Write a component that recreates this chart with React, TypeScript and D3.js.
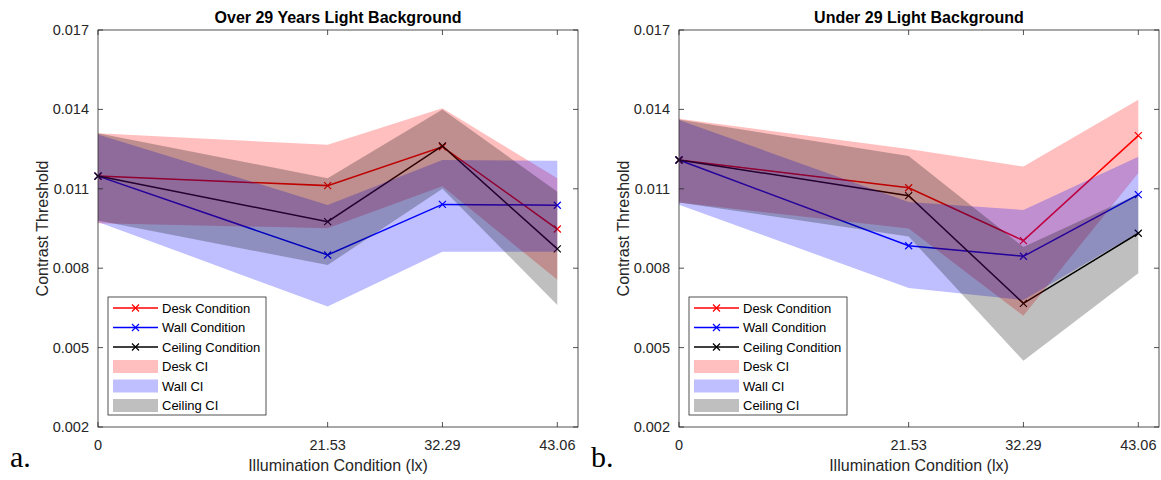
import React, { useEffect, useRef } from 'react';
import * as d3 from 'd3';

// illumination levels (lx) shared by both panels
const xValues = [0, 21.53, 32.29, 43.06];
const xTickLabels = ['0', '21.53', '32.29', '43.06'];
const yTicks = [0.002, 0.005, 0.008, 0.011, 0.014, 0.017];

// Over 29 years
const overDesk = [0.01148, 0.01112, 0.01259, 0.00948];
const overWall = [0.01148, 0.0085, 0.01041, 0.01038];
const overCeiling = [0.01148, 0.00976, 0.01262, 0.00873];
const overDeskLo = [0.0097, 0.00951, 0.0111, 0.00756];
const overDeskHi = [0.0131, 0.01266, 0.01404, 0.0114];
const overWallLo = [0.00975, 0.00655, 0.00862, 0.00862];
const overWallHi = [0.01305, 0.01039, 0.01209, 0.01206];
const overCeilLo = [0.0098, 0.00812, 0.011, 0.00661];
const overCeilHi = [0.0131, 0.0114, 0.014, 0.01089];

// Under 29
const underDesk = [0.01209, 0.01104, 0.00904, 0.01301];
const underWall = [0.01209, 0.00885, 0.00845, 0.01078];
const underCeiling = [0.01209, 0.01074, 0.00667, 0.00932];
const underDeskLo = [0.01048, 0.0095, 0.0062, 0.0116];
const underDeskHi = [0.01365, 0.0125, 0.01184, 0.01436];
const underWallLo = [0.0104, 0.00725, 0.0068, 0.00935];
const underWallHi = [0.0136, 0.0105, 0.0102, 0.01221];
const underCeilLo = [0.01048, 0.0092, 0.0045, 0.00781];
const underCeilHi = [0.01362, 0.01224, 0.0088, 0.0108];

const legendLabels = ['Desk Condition', 'Wall Condition', 'Ceiling Condition', 'Desk CI', 'Wall CI', 'Ceiling CI'];
const seriesColors = ['#ff0000', '#0000ff', '#000000'];

const FONT = '"Liberation Sans", Arial, Helvetica, sans-serif';
const AXIS_COLOR = '#262626';

export default function App() {
  const svgRef = useRef<SVGSVGElement>(null);

  useEffect(() => {
    const svg = d3.select(svgRef.current);
    svg.selectAll('*').remove();

    const panels = [
      {
        left: 98, tag: 'a.', title: 'Over 29 Years Light Background',
        lines: [overDesk, overWall, overCeiling],
        bands: [[overDeskLo, overDeskHi], [overWallLo, overWallHi], [overCeilLo, overCeilHi]]
      },
      {
        left: 679, tag: 'b.', title: 'Under 29 Light Background',
        lines: [underDesk, underWall, underCeiling],
        bands: [[underDeskLo, underDeskHi], [underWallLo, underWallHi], [underCeilLo, underCeilHi]]
      }
    ];

    const top = 30, bottom = 427, width = 480;
    const y = d3.scaleLinear().domain([0.002, 0.017]).range([bottom, top]);

    panels.forEach(p => {
      const x = d3.scaleLinear().domain([0, 45]).range([p.left, p.left + width]);
      const right = p.left + width;
      const g = svg.append('g');

      // lines first, CI fills go over them (as in the original)
      const line = d3.line<number>().x((d, i) => x(xValues[i])).y(d => y(d));
      p.lines.forEach((vals, k) => {
        g.append('path')
          .attr('d', line(vals))
          .attr('fill', 'none')
          .attr('stroke', seriesColors[k])
          .attr('stroke-width', 1.5);
        vals.forEach((v, i) => {
          const cx = x(xValues[i]), cy = y(v), s = 3.5;
          g.append('path')
            .attr('d', `M${cx - s},${cy - s}L${cx + s},${cy + s}M${cx - s},${cy + s}L${cx + s},${cy - s}`)
            .attr('stroke', seriesColors[k])
            .attr('stroke-width', 1.2);
        });
      });

      p.bands.forEach(([lo, hi], k) => {
        const area = d3.area<number>()
          .x((d, i) => x(xValues[i]))
          .y0((d, i) => y(lo[i]))
          .y1((d, i) => y(hi[i]));
        g.append('path')
          .attr('d', area(lo))
          .attr('fill', seriesColors[k])
          .attr('fill-opacity', 0.25);
      });

      // box + ticks
      g.append('rect')
        .attr('x', p.left).attr('y', top)
        .attr('width', width).attr('height', bottom - top)
        .attr('fill', 'none').attr('stroke', AXIS_COLOR).attr('stroke-width', 0.8);

      yTicks.forEach(t => {
        g.append('line').attr('x1', p.left).attr('x2', p.left + 5).attr('y1', y(t)).attr('y2', y(t))
          .attr('stroke', AXIS_COLOR).attr('stroke-width', 0.8);
        g.append('line').attr('x1', right - 5).attr('x2', right).attr('y1', y(t)).attr('y2', y(t))
          .attr('stroke', AXIS_COLOR).attr('stroke-width', 0.8);
        g.append('text')
          .attr('x', p.left - 9).attr('y', y(t)).attr('dy', '0.35em')
          .attr('text-anchor', 'end')
          .style('font-family', FONT).style('font-size', '14.5px').style('fill', AXIS_COLOR)
          .text(d3.format('.3f')(t));
      });

      xValues.forEach((v, i) => {
        g.append('line').attr('x1', x(v)).attr('x2', x(v)).attr('y1', bottom).attr('y2', bottom - 5)
          .attr('stroke', AXIS_COLOR).attr('stroke-width', 0.8);
        g.append('line').attr('x1', x(v)).attr('x2', x(v)).attr('y1', top).attr('y2', top + 5)
          .attr('stroke', AXIS_COLOR).attr('stroke-width', 0.8);
        g.append('text')
          .attr('x', x(v)).attr('y', 450)
          .attr('text-anchor', 'middle')
          .style('font-family', FONT).style('font-size', '14.5px').style('fill', AXIS_COLOR)
          .text(xTickLabels[i]);
      });

      const cx = p.left + width / 2;
      g.append('text')
        .attr('x', cx).attr('y', 23).attr('text-anchor', 'middle')
        .style('font-family', FONT).style('font-size', '16px').style('font-weight', 'bold').style('fill', '#000')
        .text(p.title);

      g.append('text')
        .attr('x', cx).attr('y', 471).attr('text-anchor', 'middle')
        .style('font-family', FONT).style('font-size', '16px').style('fill', AXIS_COLOR)
        .text('Illumination Condition (lx)');

      g.append('text')
        .attr('transform', `translate(${p.left - 50},${(top + bottom) / 2}) rotate(-90)`)
        .attr('text-anchor', 'middle')
        .style('font-family', FONT).style('font-size', '16px').style('fill', AXIS_COLOR)
        .text('Contrast Threshold');

      g.append('text')
        .attr('x', p.left - 88).attr('y', 467)
        .style('font-family', '"Liberation Serif", "Times New Roman", serif').style('font-size', '30px').style('fill', '#000')
        .text(p.tag);

      // legend
      const lx = p.left + 10, ly = 297, rowH = 19.5;
      const lg = g.append('g');
      lg.append('rect')
        .attr('x', lx).attr('y', ly).attr('width', 158).attr('height', 118)
        .attr('fill', '#fff').attr('stroke', AXIS_COLOR).attr('stroke-width', 0.8);
      legendLabels.forEach((lab, i) => {
        const ry = ly + 11 + i * rowH;
        const k = i % 3;
        if (i < 3) {
          lg.append('line').attr('x1', lx + 5).attr('x2', lx + 50).attr('y1', ry).attr('y2', ry)
            .attr('stroke', seriesColors[k]).attr('stroke-width', 1.5);
          const mx = lx + 27.5, s = 3.5;
          lg.append('path')
            .attr('d', `M${mx - s},${ry - s}L${mx + s},${ry + s}M${mx - s},${ry + s}L${mx + s},${ry - s}`)
            .attr('stroke', seriesColors[k]).attr('stroke-width', 1.2);
        } else {
          lg.append('rect').attr('x', lx + 5).attr('y', ry - 6.5).attr('width', 45).attr('height', 13)
            .attr('fill', seriesColors[k]).attr('fill-opacity', 0.25);
        }
        lg.append('text')
          .attr('x', lx + 54).attr('y', ry).attr('dy', '0.35em')
          .style('font-family', FONT).style('font-size', '13px').style('fill', '#000')
          .text(lab);
      });
    });
  }, []);

  return (
    <div style={{ position: 'absolute', left: 0, top: 0, background: '#fff' }}>
      <svg ref={svgRef} width={1161} height={480} style={{ display: 'block' }} />
    </div>
  );
}
